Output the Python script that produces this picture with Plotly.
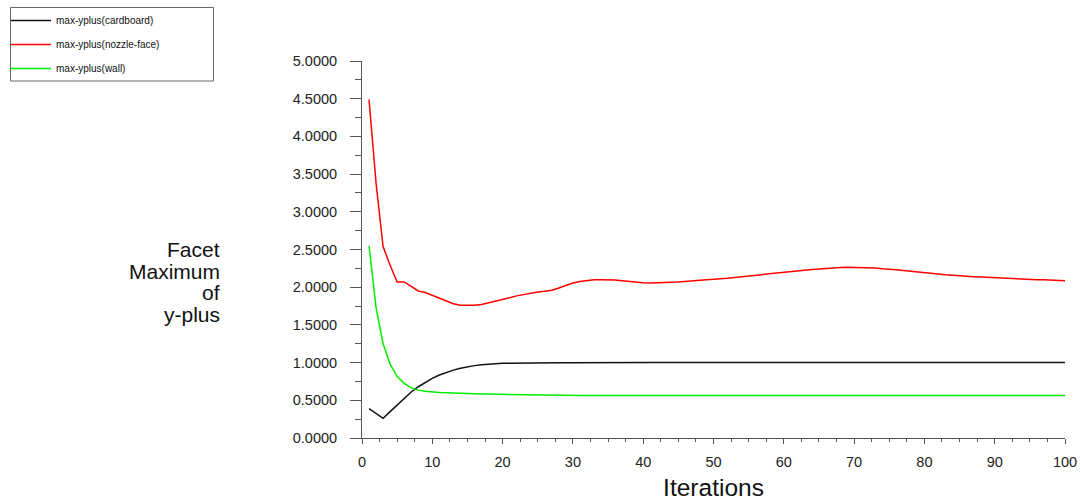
import plotly.graph_objects as go

# Iteration numbers and monitored y-plus maxima per boundary
iterations = list(range(1, 101))

yplus_cardboard = [
    0.39, 0.33, 0.26, 0.35, 0.44, 0.53, 0.61, 0.68, 0.74, 0.79,
    0.835, 0.87, 0.90, 0.925, 0.945, 0.96, 0.97, 0.98, 0.985, 0.99,
    0.993, 0.995, 0.996, 0.997, 0.998, 0.998, 0.998, 0.998, 0.998, 0.999,
    0.999, 0.999, 0.999, 0.999, 0.999, 0.999, 0.999, 0.999, 0.999, 0.999,
    1.0, 1.0, 1.0, 1.0, 1.0, 1.0, 1.0, 1.0, 1.0, 1.0,
    1.0, 1.0, 1.0, 1.0, 1.0, 1.0, 1.0, 1.0, 1.0, 1.0,
    1.0, 1.0, 1.0, 1.0, 1.0, 1.0, 1.0, 1.0, 1.0, 1.0,
    1.0, 1.0, 1.0, 1.0, 1.0, 1.0, 1.0, 1.0, 1.0, 1.0,
    1.0, 1.0, 1.0, 1.0, 1.0, 1.0, 1.0, 1.0, 1.0, 1.0,
    1.0, 1.0, 1.0, 1.0, 1.0, 1.0, 1.0, 1.0, 1.0, 1.0,
]

yplus_nozzle_face = [
    4.49, 3.38, 2.54, 2.29, 2.07, 2.07, 2.01, 1.95, 1.93, 1.89,
    1.86, 1.82, 1.78, 1.76, 1.755, 1.76, 1.77, 1.79, 1.81, 1.835,
    1.86, 1.885, 1.905, 1.92, 1.935, 1.945, 1.96, 1.99, 2.025, 2.055,
    2.075, 2.09, 2.10, 2.10, 2.10, 2.095, 2.085, 2.075, 2.065, 2.06,
    2.055, 2.055, 2.06, 2.065, 2.07, 2.08, 2.085, 2.09, 2.10, 2.105,
    2.11, 2.12, 2.13, 2.14, 2.145, 2.155, 2.165, 2.175, 2.185, 2.195,
    2.205, 2.215, 2.225, 2.235, 2.24, 2.25, 2.255, 2.26, 2.265, 2.265,
    2.265, 2.26, 2.255, 2.245, 2.24, 2.23, 2.22, 2.21, 2.20, 2.19,
    2.18, 2.175, 2.165, 2.16, 2.15, 2.145, 2.14, 2.135, 2.13, 2.125,
    2.12, 2.115, 2.11, 2.11, 2.105, 2.10, 2.10, 2.095, 2.09, 2.085,
]

yplus_wall = [
    2.55, 1.73, 1.25, 0.98, 0.815, 0.725, 0.665, 0.635, 0.62, 0.61,
    0.605, 0.60, 0.595, 0.592, 0.589, 0.586, 0.584, 0.582, 0.58, 0.578,
    0.576, 0.574, 0.573, 0.572, 0.571, 0.57, 0.569, 0.568, 0.567, 0.566,
    0.565, 0.565, 0.565, 0.565, 0.565, 0.565, 0.565, 0.565, 0.565, 0.565,
    0.565, 0.565, 0.565, 0.565, 0.565, 0.565, 0.565, 0.565, 0.565, 0.565,
    0.565, 0.565, 0.565, 0.565, 0.565, 0.565, 0.565, 0.565, 0.565, 0.565,
    0.565, 0.565, 0.565, 0.565, 0.565, 0.565, 0.565, 0.565, 0.565, 0.565,
    0.565, 0.565, 0.565, 0.565, 0.565, 0.565, 0.565, 0.565, 0.565, 0.565,
    0.565, 0.565, 0.565, 0.565, 0.565, 0.565, 0.565, 0.565, 0.565, 0.565,
    0.565, 0.565, 0.565, 0.565, 0.565, 0.565, 0.565, 0.565, 0.565, 0.565,
]

series_names = ["max-yplus(cardboard)", "max-yplus(nozzle-face)", "max-yplus(wall)"]
series_values = [yplus_cardboard, yplus_nozzle_face, yplus_wall]
series_colors = ["#111111", "#ff0000", "#00ee00"]

y_title_lines = ["Facet", "Maximum", "of", "y-plus"]

W, H = 1080, 501
ML, MR, MT, MB = 362, 15, 61, 63

fig = go.Figure()
for i, (name, vals, col) in enumerate(zip(series_names, series_values, series_colors)):
    fig.add_trace(go.Scatter(
        x=iterations, y=vals, mode="lines", name=name,
        line=dict(color=col, width=1.5),
        legendgroup=f"g{i}",
    ))

axis_col = "#555555"
fig.update_xaxes(
    range=[0, 100], dtick=10, tick0=0, automargin=False,
    showgrid=False, zeroline=False,
    showline=True, linecolor=axis_col, linewidth=1,
    ticks="outside", ticklen=5, tickcolor=axis_col, tickwidth=1,
    minor=dict(dtick=2.5, tick0=0, ticks="outside", ticklen=3, tickcolor=axis_col, showgrid=False),
    tickfont=dict(family="Liberation Sans, Arial", size=14.5, color="#222222"),
    ticklabelstandoff=6,
    title=dict(text="Iterations", font=dict(family="Liberation Sans, Arial", size=24.5, color="#111111"), standoff=13),
)
fig.update_yaxes(
    range=[0, 5], dtick=0.5, tick0=0, tickformat=".4f", automargin=False,
    showgrid=False, zeroline=False,
    showline=True, linecolor=axis_col, linewidth=1,
    ticks="outside", ticklen=11, tickcolor=axis_col, tickwidth=1,
    minor=dict(dtick=0.25, tick0=0, ticks="outside", ticklen=6, tickcolor=axis_col, showgrid=False),
    tickfont=dict(family="Liberation Sans, Arial", size=14.5, color="#222222"),
    ticklabelstandoff=10,
)

# Multi-line y-axis caption placed line by line, right-aligned
plot_h = H - MT - MB
plot_w = W - ML - MR
baselines = [262, 283.5, 305, 326.5]
for txt, b in zip(y_title_lines, baselines):
    fig.add_annotation(
        text=txt, xref="paper", yref="paper",
        x=(221 - ML) / plot_w, y=(H - MB - b) / plot_h,
        xanchor="right", yanchor="bottom", showarrow=False,
        font=dict(family="Liberation Sans, Arial", size=21, color="#111111"),
        borderpad=0,
    )

# Legend frame
fig.add_shape(
    type="rect", xref="paper", yref="paper",
    x0=(10.5 - ML) / plot_w, x1=(213.5 - ML) / plot_w,
    y0=(H - MB - 81) / plot_h, y1=(H - MB - 7.5) / plot_h,
    line=dict(color="#666666", width=1), fillcolor="rgba(0,0,0,0)",
)

fig.update_layout(
    width=W, height=H,
    margin=dict(l=ML, r=MR, t=MT, b=MB, autoexpand=False),
    paper_bgcolor="white", plot_bgcolor="white",
    showlegend=True,
    legend=dict(
        xref="container", yref="container",
        x=6 / W, y=1 - 6 / H, xanchor="left", yanchor="top",
        bgcolor="rgba(0,0,0,0)", borderwidth=0,
        font=dict(family="Liberation Sans, Arial", size=10, color="#111111"),
        traceorder="grouped", tracegroupgap=5,
        itemwidth=40,
    ),
)

fig.write_html("out.html")
